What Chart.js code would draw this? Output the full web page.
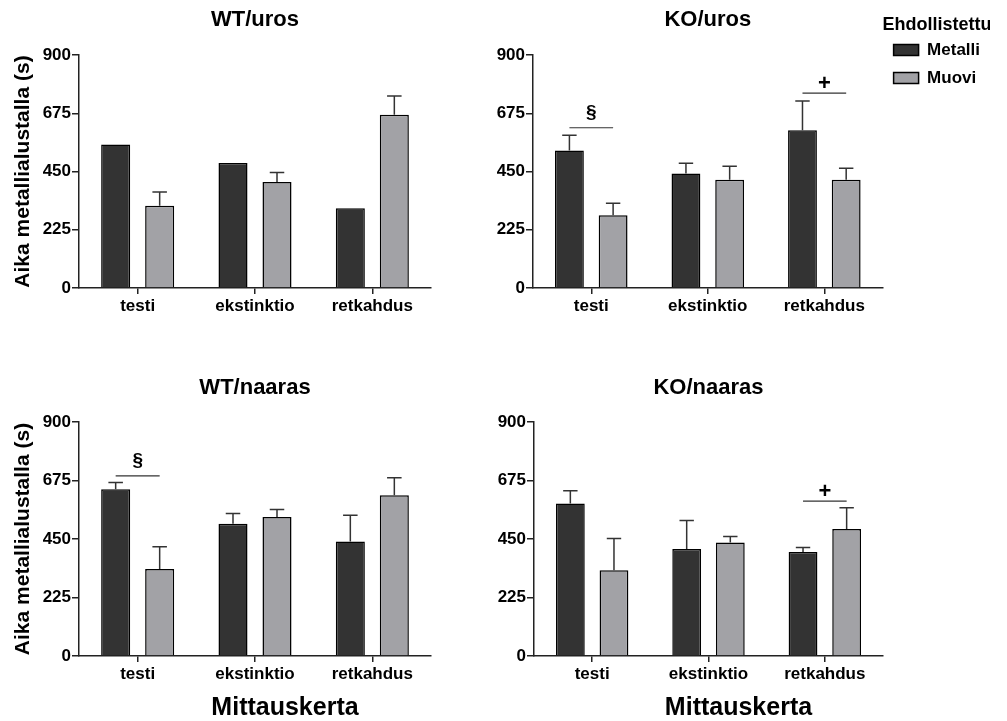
<!DOCTYPE html>
<html>
<head>
<meta charset="utf-8">
<script src="https://cdn.jsdelivr.net/npm/chart.js@4.4.1/dist/chart.umd.min.js"></script>
<style>
  body { margin: 0; background: #fff; }
  #wrap { position: relative; width: 1007px; height: 721px; overflow: hidden; }
  #wrap canvas { position: absolute; }
</style>
</head>
<body>
<div id="wrap">
  <canvas id="c1" width="480" height="355" style="left:0;top:0"></canvas>
  <canvas id="c2" width="527" height="355" style="left:480px;top:0"></canvas>
  <canvas id="c3" width="480" height="366" style="left:0;top:355px"></canvas>
  <canvas id="c4" width="527" height="366" style="left:480px;top:355px"></canvas>
</div>
<script>
// data (seconds), SEM as upper error bar
const categories = ['testi', 'ekstinktio', 'retkahdus'];
const yTicks = [0, 225, 450, 675, 900];
const seriesNames = ['Metalli', 'Muovi'];

const wtUrosMetalli = [554, 483, 308];
const wtUrosMetalliSem = [0, 0, 0];
const wtUrosMuovi = [318, 409, 669];
const wtUrosMuoviSem = [53, 37, 73];
const wtUrosSig = [];

const koUrosMetalli = [531, 442, 609];
const koUrosMetalliSem = [59, 40, 113];
const koUrosMuovi = [281, 418, 418];
const koUrosMuoviSem = [46, 52, 45];
const koUrosSig = [{ cat: 0, at: 619, mark: '§' }, { cat: 2, at: 753, mark: '+' }];

const wtNaarasMetalli = [641, 509, 440];
const wtNaarasMetalliSem = [26, 39, 101];
const wtNaarasMuovi = [335, 535, 618];
const wtNaarasMuoviSem = [85, 28, 68];
const wtNaarasSig = [{ cat: 0, at: 693, mark: '§' }];

const koNaarasMetalli = [587, 412, 400];
const koNaarasMetalliSem = [49, 109, 17];
const koNaarasMuovi = [330, 437, 488];
const koNaarasMuoviSem = [122, 23, 82];
const koNaarasSig = [{ cat: 2, at: 596, mark: '+' }];

const FONT = "'Liberation Sans', Arial, sans-serif";
Chart.defaults.font.family = FONT;
Chart.defaults.color = '#000';

// error bars, significance lines and the shifted x title
function extras(sig, xTitle) {
  return {
    id: 'extras',
    afterDatasetsDraw(chart) {
      const ctx = chart.ctx;
      const y = chart.scales.y;
      ctx.save();
      ctx.strokeStyle = '#333';
      ctx.lineWidth = 1.5;
      chart.data.datasets.forEach((ds, i) => {
        chart.getDatasetMeta(i).data.forEach((bar, j) => {
          const e = ds.sem[j];
          if (!e) return;
          const top = y.getPixelForValue(ds.data[j] + e);
          const half = bar.width / 4;
          ctx.beginPath();
          ctx.moveTo(bar.x, bar.y);
          ctx.lineTo(bar.x, top);
          ctx.moveTo(bar.x - half, top);
          ctx.lineTo(bar.x + half, top);
          ctx.stroke();
        });
      });
      const m0 = chart.getDatasetMeta(0).data;
      const m1 = chart.getDatasetMeta(1).data;
      ctx.lineWidth = 1.2;
      ctx.fillStyle = '#000';
      ctx.textAlign = 'center';
      ctx.textBaseline = 'middle';
      sig.forEach(s => {
        const ly = y.getPixelForValue(s.at);
        const x0 = m0[s.cat].x, x1 = m1[s.cat].x;
        ctx.beginPath();
        ctx.moveTo(x0, ly);
        ctx.lineTo(x1, ly);
        ctx.stroke();
        if (s.mark === '+') {
          ctx.font = 'bold 22px ' + FONT;
          ctx.fillText(s.mark, (x0 + x1) / 2, ly - 9);
        } else {
          ctx.font = 'bold 19px ' + FONT;
          ctx.fillText(s.mark, (x0 + x1) / 2, ly - 15);
        }
      });
      if (xTitle) {
        const a = chart.chartArea;
        ctx.font = 'bold 25px ' + FONT;
        ctx.fillText(xTitle, (a.left + a.right) / 2 + 30, a.bottom + 52);
      }
      ctx.restore();
    }
  };
}

function panel(id, title, met, metSem, muo, muoSem, sig, opt) {
  new Chart(document.getElementById(id), {
    type: 'bar',
    data: {
      labels: categories,
      datasets: [
        { label: seriesNames[0], data: met, sem: metSem, backgroundColor: '#333333', borderColor: '#000', borderWidth: 1.5 },
        { label: seriesNames[1], data: muo, sem: muoSem, backgroundColor: '#a2a2a6', borderColor: '#000', borderWidth: 1.5 }
      ]
    },
    options: {
      responsive: false,
      animation: false,
      categoryPercentage: 0.75,
      barPercentage: 0.66,
      layout: { padding: opt.pad },
      plugins: {
        tooltip: { enabled: false },
        title: {
          display: true, text: title, fullSize: false,
          font: { size: 22, weight: 'bold' }, color: '#000',
          padding: opt.titlePad
        },
        legend: {
          display: !!opt.legend,
          position: 'right',
          align: 'start',
          title: {
            display: true, text: 'Ehdollistettu:', position: 'start',
            font: { size: 18, weight: 'bold' }, color: '#000',
            padding: { top: 16, bottom: -7 }
          },
          labels: {
            font: { size: 17, weight: 'bold' }, color: '#000',
            boxWidth: 25, boxHeight: 11, padding: 11
          }
        }
      },
      scales: {
        x: {
          afterFit: s => { s.height = 40; },
          border: { color: '#222', width: 1.5 },
          grid: { offset: false, drawOnChartArea: false, color: '#222', lineWidth: 1.5, tickLength: 6 },
          ticks: { font: { size: 17, weight: 'bold' }, color: '#000', padding: 2 }
        },
        y: {
          min: 0, max: 900,
          afterFit: s => { s.width = opt.yW; },
          afterBuildTicks: s => { s.ticks = yTicks.map(v => ({ value: v })); },
          border: { color: '#222', width: 1.5 },
          grid: { drawOnChartArea: false, color: '#222', lineWidth: 1.5, tickLength: 7 },
          ticks: { font: { size: 17, weight: 'bold' }, color: '#000', padding: 1 },
          title: {
            display: !!opt.yTitle, text: 'Aika metallialustalla (s)',
            font: { size: 21, weight: 'bold' }, color: '#000',
            padding: { top: 10.4, bottom: 0 }
          }
        }
      }
    },
    plugins: [extras(sig, opt.xTitle)]
  });
}

panel('c1', 'WT/uros', wtUrosMetalli, wtUrosMetalliSem, wtUrosMuovi, wtUrosMuoviSem, wtUrosSig,
  { yW: 79, yTitle: true, pad: { top: 0, left: 0, right: 49, bottom: 27 }, titlePad: { top: 6.3, bottom: 22.3 } });
panel('c2', 'KO/uros', koUrosMetalli, koUrosMetalliSem, koUrosMuovi, koUrosMuoviSem, koUrosSig,
  { yW: 53, legend: true, pad: { top: 0, left: 0, right: 17, bottom: 27 }, titlePad: { top: 6.3, bottom: 22.3 } });
panel('c3', 'WT/naaras', wtNaarasMetalli, wtNaarasMetalliSem, wtNaarasMuovi, wtNaarasMuoviSem, wtNaarasSig,
  { yW: 79, yTitle: true, xTitle: 'Mittauskerta', pad: { top: 0, left: 0, right: 49, bottom: 25 }, titlePad: { top: 19.3, bottom: 21.3 } });
panel('c4', 'KO/naaras', koNaarasMetalli, koNaarasMetalliSem, koNaarasMuovi, koNaarasMuoviSem, koNaarasSig,
  { yW: 54, xTitle: 'Mittauskerta', pad: { top: 0, left: 0, right: 124, bottom: 25 }, titlePad: { top: 19.3, bottom: 21.3 } });
</script>
</body>
</html>
